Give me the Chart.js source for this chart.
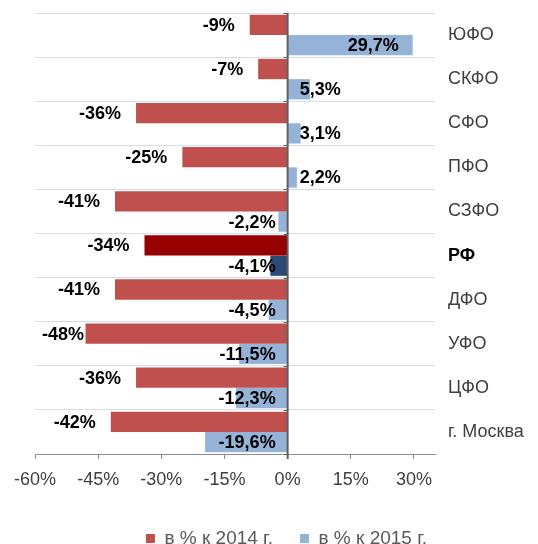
<!DOCTYPE html>
<html>
<head>
<meta charset="utf-8">
<script src="https://cdn.jsdelivr.net/npm/chart.js@4/dist/chart.umd.min.js"></script>
<style>
html,body{margin:0;padding:0;background:#fff;overflow:hidden;}
#wrap{width:538px;height:558px;}
</style>
</head>
<body>
<div id="wrap"><canvas id="c" width="538" height="558"></canvas></div>
<script>
const categories = ['ЮФО','СКФО','СФО','ПФО','СЗФО','РФ','ДФО','УФО','ЦФО','г. Москва'];
const vs2014 = [-9,-7,-36,-25,-41,-34,-41,-48,-36,-42];
const vs2015 = [29.7,5.3,3.1,2.2,-2.2,-4.1,-4.5,-11.5,-12.3,-19.6];
const seriesNames = ['в % к 2014 г.','в % к 2015 г.'];
const highlightIndex = 5;

const FONT = '"Liberation Sans", Arial, sans-serif';
const red = '#C0504D', redHi = '#960000';
const blue = '#95B3D7', blueHi = '#2A4A73';

const fmt2014 = v => v + '%';
const fmt2015 = v => v.toFixed(1).replace('.', ',') + '%';

const labelPlugin = {
  id: 'labels',
  afterDatasetsDraw(chart) {
    const ctx = chart.ctx;
    const xs = chart.scales.x;
    const zero = xs.getPixelForValue(0);
    ctx.save();
    ctx.strokeStyle = '#5f5f5f';
    ctx.lineWidth = 2;
    ctx.beginPath();
    ctx.moveTo(zero, chart.chartArea.top);
    ctx.lineTo(zero, chart.chartArea.bottom + 5);
    ctx.stroke();
    ctx.lineWidth = 1;
    const ys = chart.scales.y;
    for (let i = 0; i <= categories.length; i++) {
      const yy = Math.round(ys.getPixelForValue(i - 0.5)) + 0.5;
      ctx.beginPath();
      ctx.moveTo(zero - 4, yy);
      ctx.lineTo(zero, yy);
      ctx.stroke();
    }
    ctx.font = 'bold 18px ' + FONT;
    ctx.fillStyle = '#000';
    ctx.textBaseline = 'middle';
    const m0 = chart.getDatasetMeta(0), m1 = chart.getDatasetMeta(1);
    m0.data.forEach((bar, i) => {
      const t = fmt2014(vs2014[i]);
      const w = ctx.measureText(t).width;
      const right = Math.max(bar.x - 15, 42 + w);
      ctx.textAlign = 'right';
      ctx.fillText(t, right, bar.y + 1);
    });
    m1.data.forEach((bar, i) => {
      const v = vs2015[i];
      const t = fmt2015(v);
      const w = ctx.measureText(t).width;
      if (v >= 0) {
        if (bar.x - 14 - w > zero + 12) {
          ctx.textAlign = 'right';
          ctx.fillText(t, bar.x - 14, bar.y + 1);
        } else {
          ctx.textAlign = 'left';
          ctx.fillText(t, zero + 12, bar.y + 1);
        }
      } else {
        ctx.textAlign = 'right';
        ctx.fillText(t, zero - 12, bar.y + 1);
      }
    });
    ctx.restore();
  }
};

new Chart(document.getElementById('c'), {
  type: 'bar',
  data: {
    labels: categories,
    datasets: [
      {
        label: seriesNames[0],
        data: vs2014,
        backgroundColor: categories.map((c, i) => i === highlightIndex ? redHi : red),
        categoryPercentage: 0.92,
        barPercentage: 1.0
      },
      {
        label: seriesNames[1],
        data: vs2015,
        backgroundColor: categories.map((c, i) => i === highlightIndex ? blueHi : blue),
        categoryPercentage: 0.92,
        barPercentage: 1.0
      }
    ]
  },
  options: {
    indexAxis: 'y',
    responsive: false,
    animation: false,
    devicePixelRatio: 1,
    layout: { padding: { left: 35, top: 13, right: 0, bottom: 0 } },
    plugins: {
      tooltip: { enabled: false },
      legend: {
        position: 'bottom',
        labels: {
          boxWidth: 9,
          boxHeight: 9,
          padding: 27,
          color: '#595959',
          font: { family: FONT, size: 19 },
          generateLabels(chart) {
            return chart.data.datasets.map((ds, i) => ({
              text: ds.label,
              fillStyle: i === 0 ? red : blue,
              strokeStyle: i === 0 ? red : blue,
              lineWidth: 0,
              datasetIndex: i,
              fontColor: '#595959'
            }));
          }
        }
      }
    },
    scales: {
      x: {
        type: 'linear',
        min: -60,
        max: 35,
        afterFit(s) { s.height = 48; },
        ticks: {
          stepSize: 15,
          includeBounds: false,
          padding: 10,
          color: '#404040',
          font: { family: FONT, size: 18 },
          callback: v => v + '%'
        },
        grid: {
          drawOnChartArea: false,
          drawTicks: true,
          tickLength: 5,
          color: '#8c8c8c'
        },
        border: { display: true, color: '#8c8c8c', width: 1 }
      },
      y: {
        position: 'right',
        afterFit(s) { s.width = 103; s.paddingTop = 0; s.paddingBottom = 0; },
        ticks: {
          padding: 13,
          color: c => c.index === highlightIndex ? '#000' : '#404040',
          font: c => ({ family: FONT, size: 18, weight: c.index === highlightIndex ? 'bold' : 'normal' })
        },
        grid: {
          offset: true,
          drawTicks: false,
          color: '#d5dde8'
        },
        border: { display: false }
      }
    }
  },
  plugins: [labelPlugin]
});
</script>
</body>
</html>
